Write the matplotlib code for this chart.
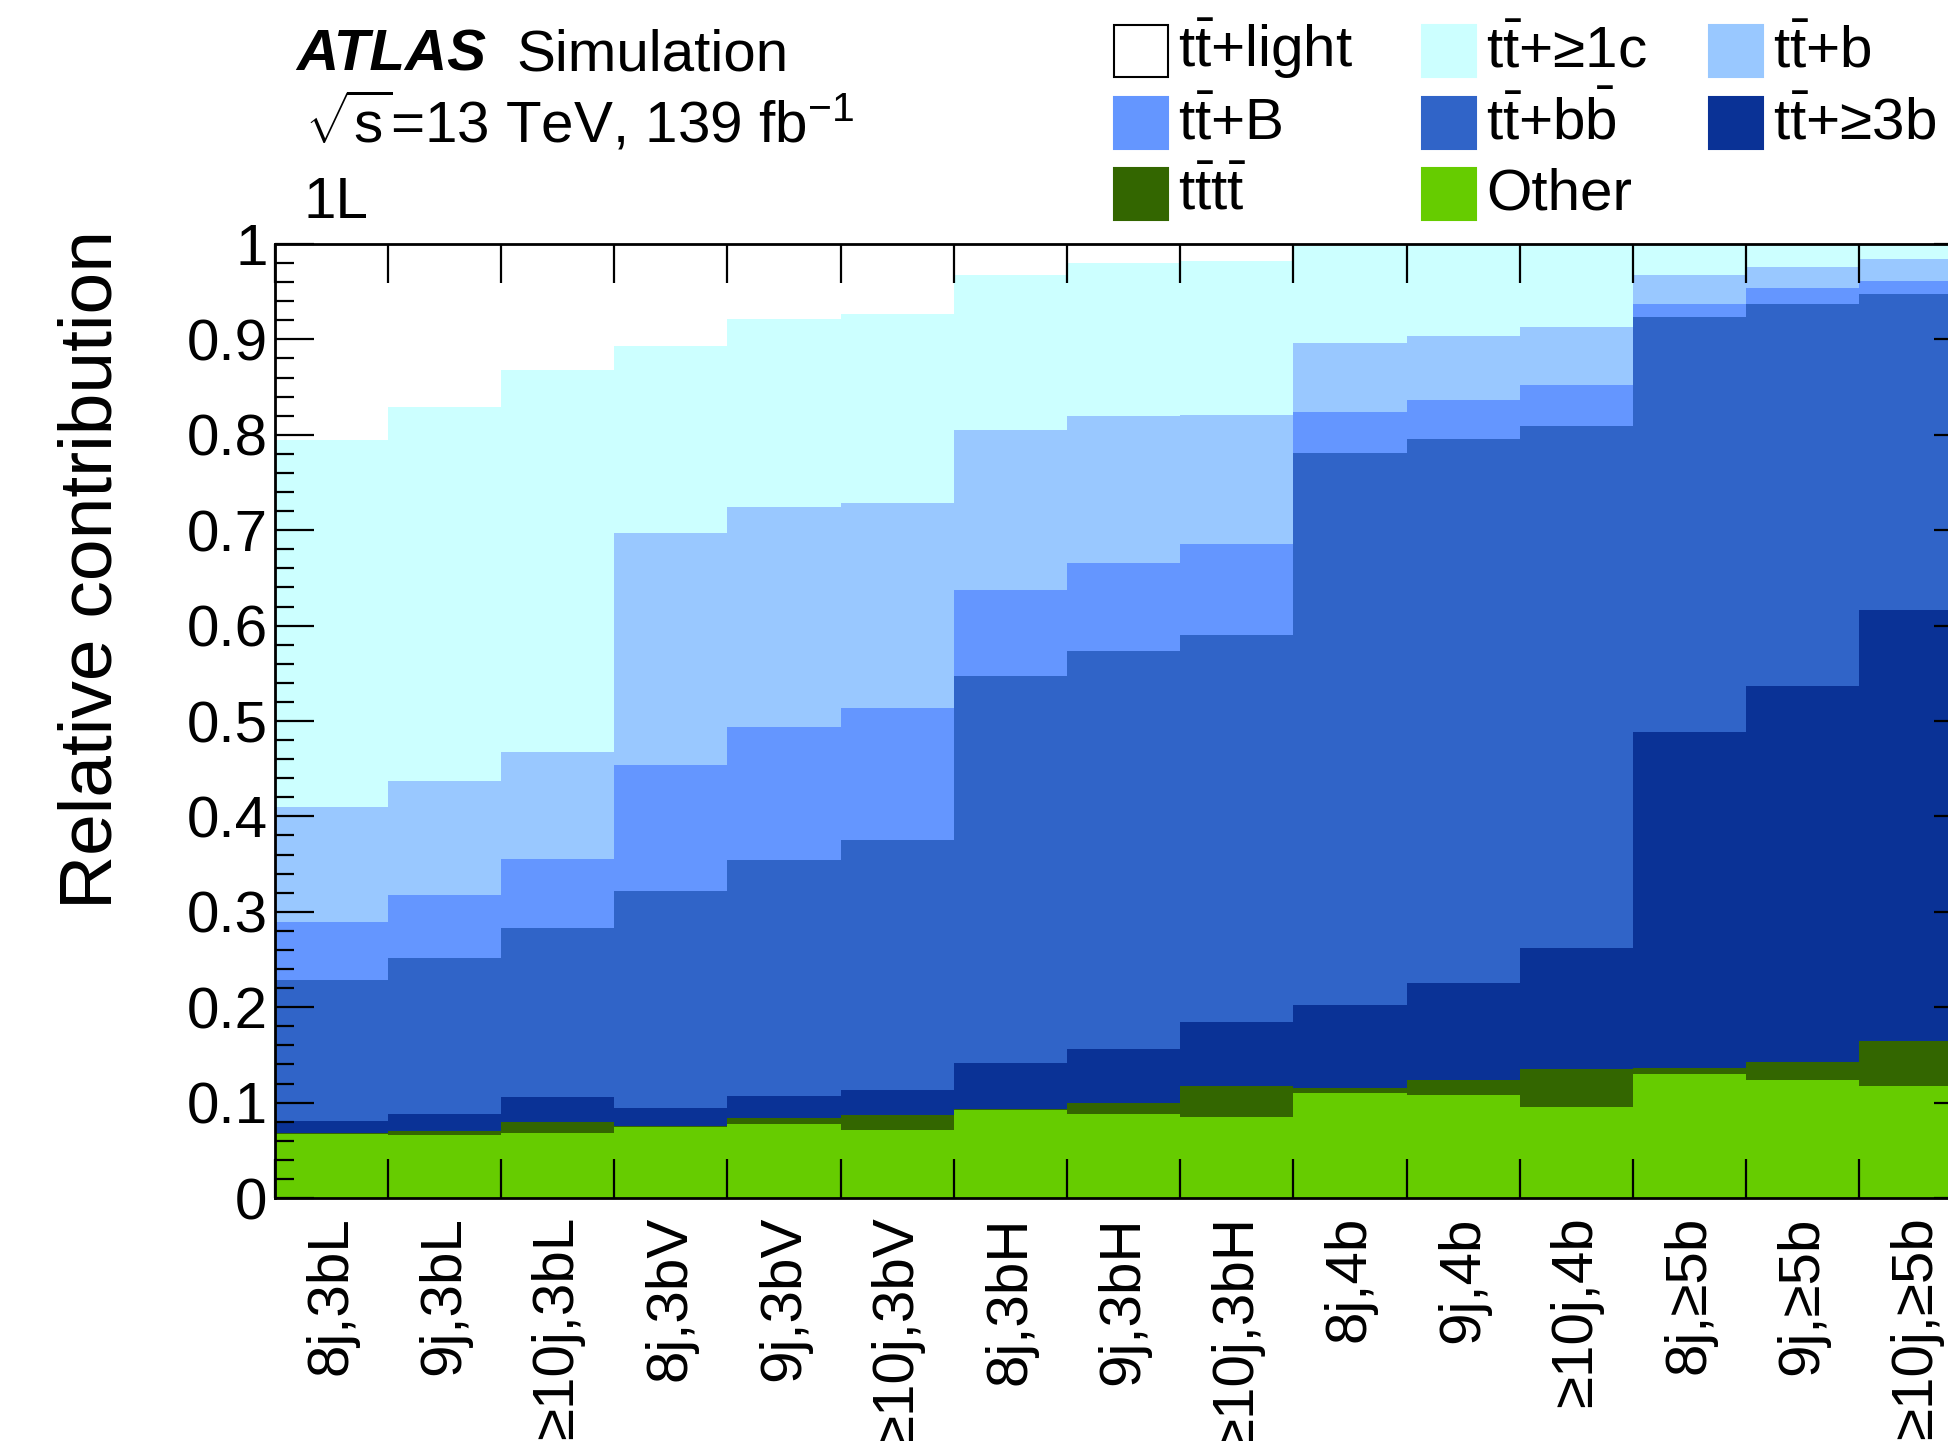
import numpy as np
import matplotlib
matplotlib.use("Agg")
import matplotlib.pyplot as plt
from matplotlib.patches import Rectangle

plt.rcParams['font.family'] = ['Liberation Sans', 'DejaVu Sans']
plt.rcParams['mathtext.fontset'] = 'custom'
plt.rcParams['mathtext.rm'] = 'Liberation Sans'
plt.rcParams['mathtext.it'] = 'Liberation Sans:italic'
plt.rcParams['mathtext.bf'] = 'Liberation Sans:bold'

# regions
regions = ["8j,3bL", "9j,3bL", "≥10j,3bL", "8j,3bV", "9j,3bV", "≥10j,3bV",
           "8j,3bH", "9j,3bH", "≥10j,3bH", "8j,4b", "9j,4b", "≥10j,4b",
           "8j,≥5b", "9j,≥5b", "≥10j,≥5b"]

# relative contributions per process (bottom to top of the stack)
other = [0.067, 0.066, 0.068, 0.074, 0.078, 0.071, 0.092, 0.088, 0.085, 0.110, 0.108, 0.095, 0.130, 0.124, 0.117]
tttt  = [0.001, 0.004, 0.012, 0.001, 0.006, 0.016, 0.001, 0.012, 0.032, 0.005, 0.016, 0.040, 0.006, 0.019, 0.048]
tt3b  = [0.013, 0.018, 0.026, 0.019, 0.023, 0.026, 0.048, 0.056, 0.068, 0.087, 0.101, 0.127, 0.352, 0.394, 0.451]
ttbb  = [0.147, 0.164, 0.177, 0.228, 0.247, 0.262, 0.406, 0.417, 0.405, 0.579, 0.571, 0.547, 0.435, 0.400, 0.332]
ttB   = [0.061, 0.066, 0.072, 0.132, 0.140, 0.139, 0.090, 0.093, 0.096, 0.043, 0.041, 0.043, 0.014, 0.017, 0.013]
ttb   = [0.121, 0.119, 0.112, 0.243, 0.230, 0.215, 0.168, 0.154, 0.135, 0.072, 0.067, 0.061, 0.030, 0.022, 0.023]
tt1c  = [0.385, 0.392, 0.401, 0.196, 0.197, 0.198, 0.162, 0.160, 0.161, 0.102, 0.095, 0.086, 0.033, 0.024, 0.016]
ttlight = [0.205, 0.171, 0.132, 0.107, 0.079, 0.073, 0.033, 0.020, 0.018, 0.002, 0.001, 0.001, 0.0, 0.0, 0.0]

TT = r"$\mathrm{t\bar{t}}$"
stack = [
    (other, "#66cc00", "Other"),
    (tttt, "#336600", r"$\mathrm{t\bar{t}t\bar{t}}$"),
    (tt3b, "#0a3296", TT + "+≥3b"),
    (ttbb, "#3064c8", TT + r"+$\mathrm{b\bar{b}}$"),
    (ttB, "#6496ff", TT + "+B"),
    (ttb, "#99c8ff", TT + "+b"),
    (tt1c, "#ccffff", TT + "+≥1c"),
    (ttlight, "#ffffff", TT + "+light"),
]

fig = plt.figure(figsize=(19.48, 14.41), dpi=100)
W, H = 1948.0, 1441.0
ax = fig.add_axes([274.5 / W, 1 - 1198 / H, (1972.5 - 274.5) / W, (1198 - 244) / H])

edges = np.arange(len(regions) + 1)
base = np.zeros(len(regions))
for vals, col, lab in stack:
    vals = np.array(vals)
    ax.stairs(base + vals, edges, baseline=base, fill=True, color=col, lw=0)
    base = base + vals

ax.set_xlim(0, len(regions))
ax.set_ylim(0, 1)

# ticks
ax.set_xticks(edges)
ax.set_xticklabels([])
ax.set_xticks(edges[:-1] + 0.5, minor=True)
ax.set_xticklabels(regions, minor=True, rotation=90, fontsize=42, va='top', ha='center')
ax.tick_params(axis='x', which='major', direction='in', length=28, width=1.6, top=True, bottom=True)
ax.tick_params(axis='x', which='minor', length=0, pad=13)

ax.set_yticks(np.arange(0, 1.01, 0.1))
ax.set_yticklabels(["0"] + ["%.1f" % v for v in np.arange(0.1, 0.95, 0.1)] + ["1"], fontsize=42)
ax.set_yticks(np.arange(0, 1.001, 0.02), minor=True)
ax.tick_params(axis='y', which='major', direction='in', length=28, width=1.6, left=True, right=True, pad=5)
ax.tick_params(axis='y', which='minor', direction='in', length=14, width=1.6, left=True, right=True)

for s in ax.spines.values():
    s.set_linewidth(2.0)
    s.set_zorder(5)

fig.text(92 / W, 1 - 230 / H, "Relative contribution", rotation=90, ha='center', va='top', fontsize=54)

# labels top-left
fig.text(296.6 / W, 1 - 70.7 / H, "ATLAS", fontsize=42, fontweight='bold', fontstyle='italic', va='baseline')
fig.text(516.6 / W, 1 - 70.7 / H, "Simulation", fontsize=42, va='baseline')
fig.text(305 / W, 1 - 143 / H, r"$\sqrt{\mathrm{s}}$=13 TeV, 139 fb$^{\mathrm{-1}}$", fontsize=42, va='baseline')
fig.text(303 / W, 1 - 218 / H, "1L", fontsize=42, va='baseline')

# legend
leg_order = [7, 6, 5, 4, 3, 2, 1, 0]
col_x = [1113.7, 1422, 1709]
row_y = [25, 97, 168]
for k, idx in enumerate(leg_order):
    vals, col, lab = stack[idx]
    r, c = divmod(k, 3)
    x0, y0 = col_x[c], row_y[r]
    ec = "black" if idx == 7 else col
    fig.patches.append(Rectangle((x0 / W, 1 - (y0 + 52) / H), 54 / W, 52 / H,
                                 transform=fig.transFigure, facecolor=col,
                                 edgecolor=ec, lw=1.5))
    fig.text((x0 + 64) / W, 1 - (y0 + 42) / H, lab, fontsize=42, va='baseline')

fig.savefig("out.png", dpi=100)
